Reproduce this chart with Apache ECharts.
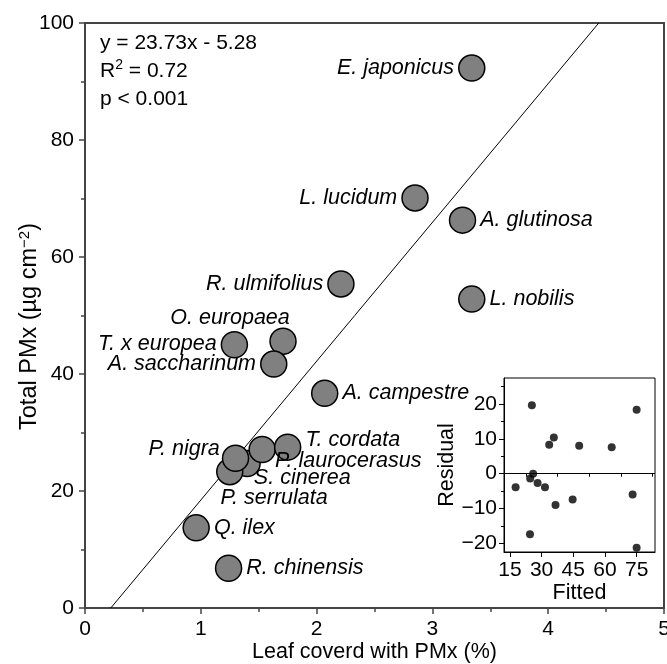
<!DOCTYPE html>
<html>
<head>
<meta charset="utf-8">
<script src="https://cdn.jsdelivr.net/npm/echarts@6/dist/echarts.min.js"></script>
<style>
html,body{margin:0;padding:0;background:#fff;overflow:hidden;}
#c{width:667px;height:664px;}
</style>
</head>
<body>
<div id="c"></div>
<script>
// ---- data ----
const species = ['E. japonicus','L. lucidum','A. glutinosa','L. nobilis','R. ulmifolius','O. europaea','T. x europea','A. saccharinum','A. campestre','S. cinerea','P. serrulata','P. laurocerasus','T. cordata','P. nigra','Q. ilex','R. chinensis'];
const leafCover = [3.34, 2.85, 3.26, 3.34, 2.21, 1.71, 1.29, 1.63, 2.07, 1.40, 1.25, 1.53, 1.75, 1.30, 0.96, 1.24];
const totalPM   = [92.3, 70.1, 66.3, 52.8, 55.4, 45.6, 45.0, 41.7, 36.7, 24.7, 23.3, 27.1, 27.5, 25.6, 13.7, 6.8];
const fitted    = [25.4, 75.0, 33.6, 35.8, 47.8, 63.2, 17.7, 24.6, 26.0, 28.1, 31.6, 36.6, 44.7, 73.1, 24.5, 75.0];
const residual  = [19.7, 18.4, 8.3, 10.4, 8.0, 7.6, -3.9, -1.35, 0.0, -2.7, -3.9, -9.0, -7.4, -6.0, -17.4, -21.3];
const slope = 23.73, intercept = -5.28;
const insetXTicks = [15, 30, 45, 60, 75];
const insetXMinor = [22.5, 37.5, 52.5, 67.5, 82.5];
const insetYTicks = [-20, -10, 0, 10, 20];
const insetYMinor = [-15, -5, 5, 15, 25];

// ---- label placement (styling) ----
const labelPlacement = {
  'E. japonicus': ['left', 0, 0],
  'L. lucidum': ['left', 0, 0],
  'A. glutinosa': ['right', 0, 0],
  'L. nobilis': ['right', 0, 0],
  'R. ulmifolius': ['left', 0, 0],
  'O. europaea': ['inside', -53, -23],
  'T. x europea': ['left', 0, -1],
  'A. saccharinum': ['left', 0, 0],
  'A. campestre': ['right', 0, 0],
  'S. cinerea': ['right', -11, 15],
  'P. serrulata': ['right', -27, 26],
  'P. laurocerasus': ['right', -5, 12],
  'T. cordata': ['right', 0, -7],
  'P. nigra': ['left', 2, -9],
  'Q. ilex': ['right', 0, 0],
  'R. chinensis': ['right', 0, 0]
};

const FONT = '"Liberation Sans", Arial, Helvetica, sans-serif';
const AX = '#444';
const FS = 21;      // tick / annotation font
const FT = 21.5;    // titles and species labels

const scatterData = species.map((n, i) => {
  const p = labelPlacement[n];
  return {
    name: n,
    value: [leafCover[i], totalPM[i]],
    label: { position: p[0], offset: [p[1], p[2]] }
  };
});

const x0 = -intercept / slope, x1 = (100 - intercept) / slope;

const chart = echarts.init(document.getElementById('c'), null, {renderer: 'canvas'});
chart.setOption({
  animation: false,
  backgroundColor: '#fff',
  textStyle: { fontFamily: FONT },
  grid: [
    { left: 85, top: 23, width: 579, height: 585, show: true, borderColor: AX, borderWidth: 2, backgroundColor: 'transparent', containLabel: false, outerBoundsMode: 'none' },
    { left: 504, top: 378, width: 151, height: 174, show: true, borderColor: '#000', borderWidth: 1, backgroundColor: '#fff', z: 5, containLabel: false, outerBoundsMode: 'none' }
  ],
  xAxis: [
    {
      gridIndex: 0, type: 'value', min: 0, max: 5, interval: 1, position: 'bottom',
      name: 'Leaf coverd with PMx (%)', nameLocation: 'middle', nameGap: 33, nameMoveOverlap: false,
      nameTextStyle: { fontSize: FT, color: '#000', fontFamily: FONT },
      axisLine: { onZero: false, lineStyle: { color: AX, width: 2 } },
      axisTick: { inside: false, length: 6, lineStyle: { color: AX, width: 1.5 } },
      minorTick: { show: true, splitNumber: 2, length: 4, lineStyle: { color: AX, width: 1.5 } },
      axisLabel: { fontSize: FS, color: '#000', margin: 11, fontFamily: FONT },
      splitLine: { show: false }
    },
    {
      gridIndex: 1, type: 'value', min: 12.2, max: 83.7, position: 'bottom',
      name: 'Fitted', nameLocation: 'middle', nameGap: 30, nameMoveOverlap: false,
      nameTextStyle: { fontSize: FT, color: '#000', fontFamily: FONT },
      axisLine: { onZero: false, lineStyle: { color: '#000', width: 1 } },
      axisTick: { customValues: insetXTicks, length: 5, lineStyle: { color: '#000' } },
      axisLabel: { customValues: insetXTicks, fontSize: FS, color: '#000', margin: 8, fontFamily: FONT },
      splitLine: { show: false }, z: 6
    },
    {
      gridIndex: 1, type: 'value', min: 12.2, max: 83.7, position: 'bottom',
      axisLine: { show: false },
      axisTick: { customValues: insetXMinor, length: 3, lineStyle: { color: '#000' } },
      axisLabel: { show: false, customValues: insetXMinor },
      splitLine: { show: false }, z: 6
    }
  ],
  yAxis: [
    {
      gridIndex: 0, type: 'value', min: 0, max: 100, interval: 20, position: 'left',
      name: '{n|Total PMx (µg cm}{s|−2}{n|)}', nameLocation: 'middle', nameGap: 42, nameRotate: 90, nameMoveOverlap: false,
      nameTextStyle: { fontSize: 23.5, color: '#000', fontFamily: FONT, padding: [0, 22, 0, 0],
        rich: { n: { fontSize: 23.5, fontFamily: FONT, color: '#000', lineHeight: 26 },
                s: { fontSize: 15, fontFamily: FONT, color: '#000', verticalAlign: 'top', lineHeight: 26, padding: [0, 0, 11, 0] } } },
      axisLine: { onZero: false, lineStyle: { color: AX, width: 2 } },
      axisTick: { inside: false, length: 6, lineStyle: { color: AX, width: 1.5 } },
      minorTick: { show: true, splitNumber: 2, length: 4, lineStyle: { color: AX, width: 1.5 } },
      axisLabel: { fontSize: FS, color: '#000', margin: 11, fontFamily: FONT },
      splitLine: { show: false }
    },
    {
      gridIndex: 1, type: 'value', min: -22.5, max: 27.5, position: 'left',
      name: 'Residual', nameLocation: 'middle', nameGap: 46, nameRotate: 90, nameMoveOverlap: false,
      nameTextStyle: { fontSize: FT, color: '#000', fontFamily: FONT },
      axisLine: { onZero: false, lineStyle: { color: '#000', width: 1 } },
      axisTick: { customValues: insetYTicks, length: 5, lineStyle: { color: '#000' } },
      axisLabel: { customValues: insetYTicks, fontSize: FS, color: '#000', margin: 7, fontFamily: FONT,
        formatter: v => (v < 0 ? '\u2212' + Math.abs(v) : String(v)) },
      splitLine: { show: false }, z: 6
    },
    {
      gridIndex: 1, type: 'value', min: -22.5, max: 27.5, position: 'left',
      axisLine: { show: false },
      axisTick: { customValues: insetYMinor, length: 3, lineStyle: { color: '#000' } },
      axisLabel: { show: false, customValues: insetYMinor },
      splitLine: { show: false }, z: 6
    }
  ],
  series: [
    {
      type: 'line', xAxisIndex: 0, yAxisIndex: 0,
      data: [[x0, 0], [x1, 100]], symbol: 'none', silent: true,
      lineStyle: { color: '#000', width: 1 }, z: 1
    },
    {
      type: 'scatter', xAxisIndex: 0, yAxisIndex: 0,
      data: scatterData, symbol: 'circle', symbolSize: 26,
      itemStyle: { color: '#808080', borderColor: '#000', borderWidth: 1.5, opacity: 1 },
      label: { show: true, formatter: '{b}', fontSize: FT, fontStyle: 'italic', color: '#000', fontFamily: FONT, distance: 4 },
      z: 3
    },
    {
      type: 'scatter', xAxisIndex: 1, yAxisIndex: 1,
      data: fitted.map((f, i) => [f, residual[i]]), symbol: 'circle', symbolSize: 8,
      itemStyle: { color: '#000' }, z: 7,
      markLine: { silent: true, symbol: 'none', label: { show: false },
        lineStyle: { color: '#000', width: 1, type: 'solid' }, data: [{ yAxis: 0 }] }
    }
  ],
  graphic: [
    { type: 'text', left: 100, top: 33, z: 10, style: { text: 'y = 23.73x - 5.28', font: FS + 'px ' + FONT, fill: '#000' } },
    { type: 'text', left: 100, top: 58, z: 10, style: { text: '{n|R}{s|2}{n| = 0.72}', fill: '#000',
        rich: { n: { fontSize: FS, fontFamily: FONT, lineHeight: 26 }, s: { fontSize: 14, fontFamily: FONT, verticalAlign: 'top', lineHeight: 26, padding: [0, 0, 10, 0] } } } },
    { type: 'text', left: 100, top: 89, z: 10, style: { text: 'p < 0.001', font: FS + 'px ' + FONT, fill: '#000' } }
  ]
});
</script>
</body>
</html>
